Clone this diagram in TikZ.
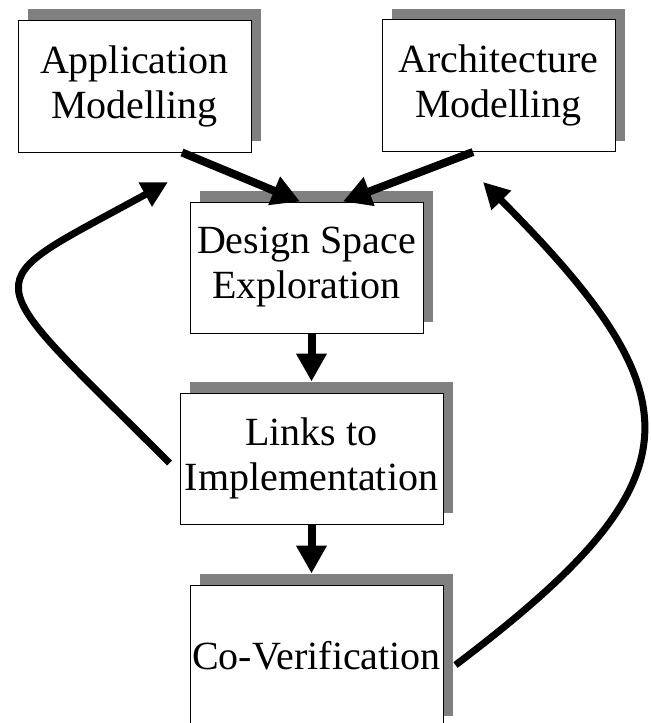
\documentclass[tikz,border=0pt]{standalone}
\usepackage{fontspec}
\setmainfont{Liberation Serif}
\usetikzlibrary{arrows.meta}
\usetikzlibrary{shadows}

\begin{document}
\begin{tikzpicture}[x=0.5pt,y=-0.5pt]

\tikzset{
    box/.style = {
    draw, line width=0.5pt, fill=white,
    inner sep=0pt, align=center,
    font=\fontsize{20}{22.5}\selectfont,
    drop shadow={shadow xshift=5pt, shadow yshift=5.5pt, fill=gray, opacity=1}
    }
}

\tikzstyle{fleche}=[line width=4pt, -{Triangle[length=14pt,width=14.5pt]}]
\tikzstyle{retour}=[line width=3.5pt, -{Triangle[length=13pt,width=13pt]}]

\clip (0,0) rectangle (650,723);

\node (app) [box, minimum width=116.5pt, minimum height=66pt] at (134.5,86) {Application\\Modelling};
\node (arch) [box, minimum width=116.5pt, minimum height=66pt] at (498.5,85.5) {Architecture\\Modelling};
\node (dse) [box, minimum width=116.5pt, minimum height=65.5pt] at (306.5,267.5) {Design Space\\Exploration};
\node (links) [box, minimum width=131.5pt, minimum height=65.5pt] at (311.5,458.5) {Links to\\Implementation};
\node (cov) [box, minimum width=126.5pt, minimum height=71pt] at (316.5,656) {Co-Verification};

\draw [fleche] ([xshift=23.75pt]app.south) -- ([xshift=-3.25pt]dse.north);
\draw [fleche] ([xshift=-12.75pt]arch.south) -- ([xshift=18.25pt]dse.north);
\draw [fleche] (dse.south -| links.north) -- ([yshift=5.5pt]links.north);
\draw [fleche] (links.south) -- ([yshift=5.5pt]links.south |- cov.north);

% feedback loops
\coordinate (retour-g) at (168,182);
\coordinate (retour-d) at (483,182);
\draw [retour] ([xshift=-5pt,yshift=-2.25pt]links.west) .. controls (-28,265) and (-28,290) .. (retour-g);
\draw [retour] ([xshift=6pt,yshift=-4.5pt]cov.east) .. controls (700,480) and (700,400) .. (retour-d);

\end{tikzpicture}
\end{document}
